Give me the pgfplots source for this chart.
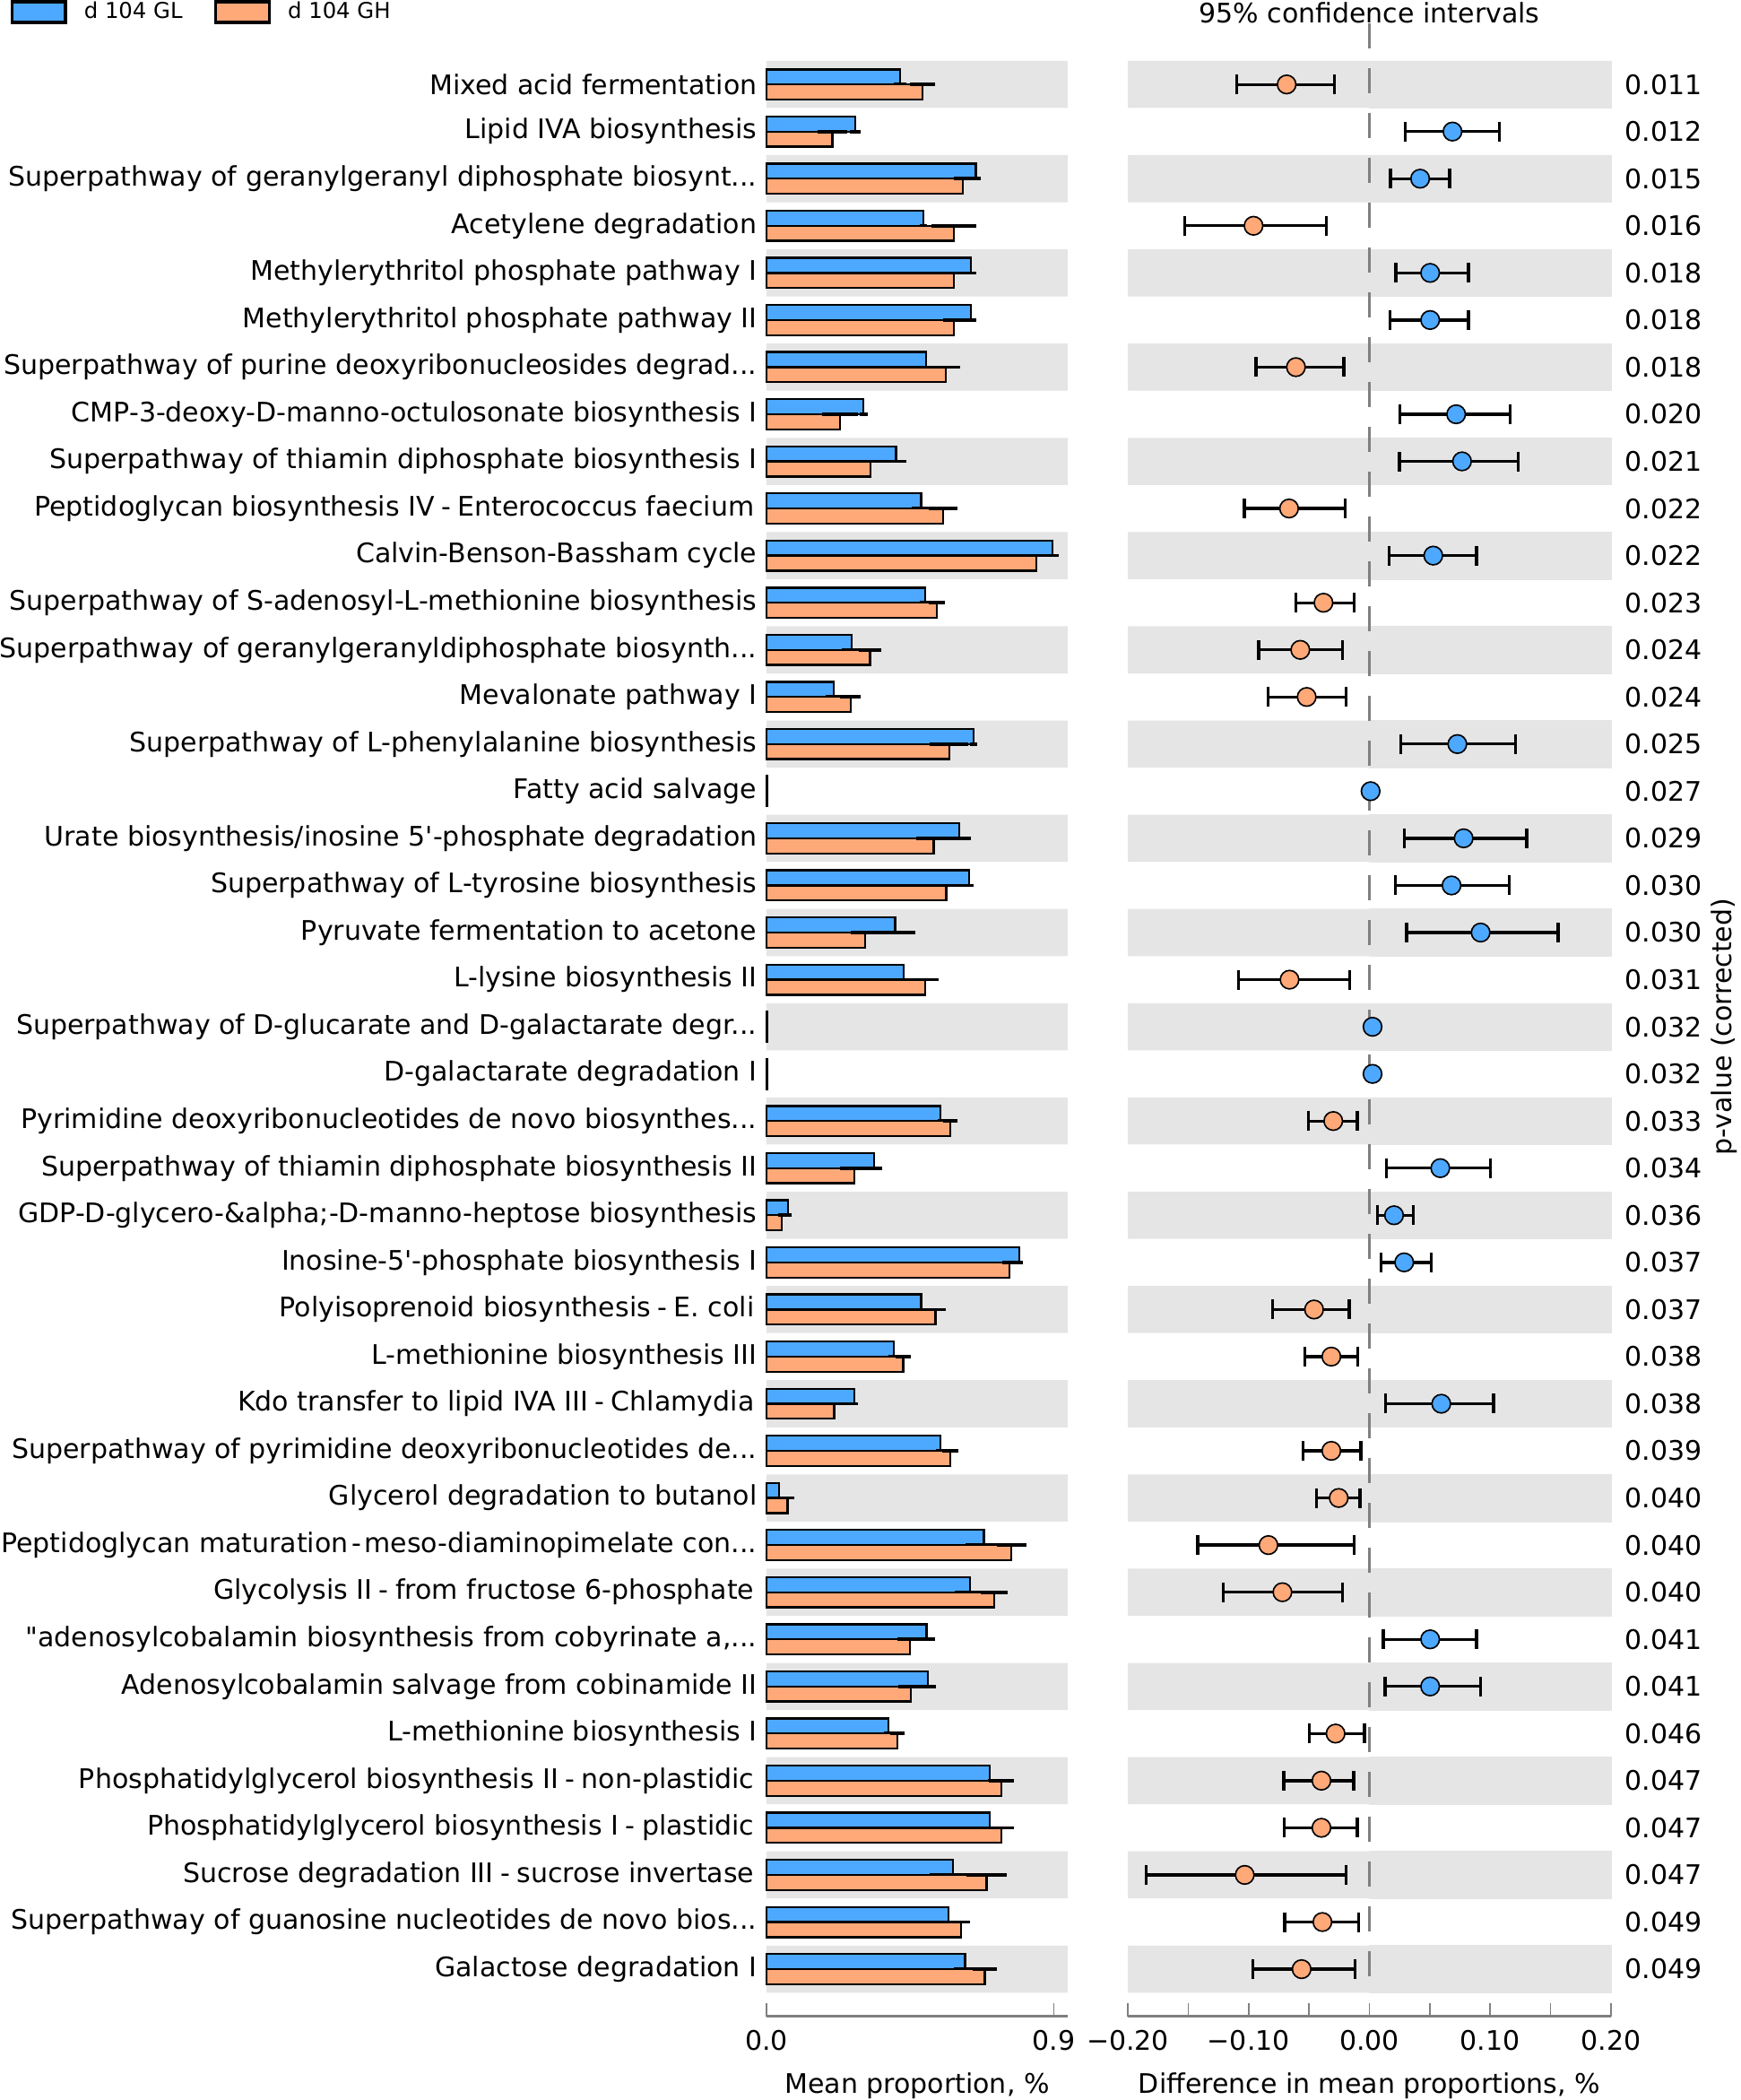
\documentclass[border=0pt]{standalone}
\usepackage{fontspec}
\setmainfont{DejaVu Sans}[Ligatures=TeXOff]
\usepackage{pgfplots}
\pgfplotsset{compat=1.18}
\usepackage{pgfplotstable}
\definecolor{gl}{RGB}{77,168,255}
\definecolor{gh}{RGB}{255,168,120}
\definecolor{band}{RGB}{229,229,229}
\definecolor{spine}{RGB}{128,128,128}
\newcommand{\lfont}{\fontsize{9.0pt}{11pt}\selectfont}
\newcommand{\gfont}{\fontsize{7.3pt}{9pt}\selectfont}
\protected\def\ddd{.\kern0pt.\kern0pt.}
\protected\def\sep{\kern0.25em-\kern0.25em}
\protected\def\nsep{\kern0.12em-\kern0.12em}
\protected\def\tsp{\kern0.1em}

\pgfplotstableread{
row gl gle gh ghe
-1 0.418 0.020 0.489 0.040
-2 0.278 0.017 0.206 0.046
-3 0.655 0.016 0.614 0.027
-4 0.491 0.012 0.587 0.070
-5 0.639 0.018 0.587 0.034
-6 0.639 0.018 0.587 0.034
-7 0.500 0.013 0.562 0.044
-8 0.304 0.012 0.230 0.057
-9 0.406 0.031 0.326 0.052
-10 0.484 0.029 0.552 0.045
-11 0.895 0.020 0.844 0.038
-12 0.496 0.016 0.534 0.025
-13 0.266 0.029 0.324 0.036
-14 0.210 0.026 0.263 0.033
-15 0.648 0.012 0.572 0.060
-16 0.003 0.000 0.002 0.000
-17 0.603 0.038 0.523 0.055
-18 0.634 0.015 0.563 0.058
-19 0.403 0.063 0.308 0.043
-20 0.429 0.037 0.496 0.043
-21 0.003 0.000 0.002 0.000
-22 0.003 0.000 0.002 0.000
-23 0.545 0.010 0.576 0.023
-24 0.337 0.025 0.275 0.045
-25 0.067 0.013 0.047 0.011
-26 0.791 0.012 0.761 0.023
-27 0.484 0.024 0.529 0.033
-28 0.398 0.015 0.428 0.024
-29 0.275 0.012 0.212 0.055
-30 0.544 0.013 0.576 0.026
-31 0.040 0.010 0.066 0.020
-32 0.681 0.058 0.767 0.047
-33 0.637 0.048 0.712 0.042
-34 0.501 0.026 0.449 0.039
-35 0.505 0.026 0.452 0.039
-36 0.382 0.015 0.409 0.022
-37 0.699 0.007 0.736 0.039
-38 0.699 0.007 0.736 0.039
-39 0.583 0.071 0.689 0.064
-40 0.570 0.023 0.609 0.029
-41 0.622 0.036 0.683 0.038
}\bars

\pgfplotstableread{
row bx cl cr
-1 0.943 -0.2 0.2
-3 0.943 -0.2 0.2
-5 0.943 -0.2 0.2
-7 0.943 -0.2 0.2
-9 0.943 -0.2 0.2
-11 0.943 -0.2 0.2
-13 0.943 -0.2 0.2
-15 0.943 -0.2 0.2
-17 0.943 -0.2 0.2
-19 0.943 -0.2 0.2
-21 0.943 -0.2 0.2
-23 0.943 -0.2 0.2
-25 0.943 -0.2 0.2
-27 0.943 -0.2 0.2
-29 0.943 -0.2 0.2
-31 0.943 -0.2 0.2
-33 0.943 -0.2 0.2
-35 0.943 -0.2 0.2
-37 0.943 -0.2 0.2
-39 0.943 -0.2 0.2
-41 0.943 -0.2 0.2
}\bands

% positive differences (higher in d 104 GL)
\pgfplotstableread{
row d em ep
-2 0.0688 0.0390 0.0387
-3 0.0420 0.0245 0.0245
-5 0.0503 0.0285 0.0317
-6 0.0503 0.0334 0.0317
-8 0.0718 0.0467 0.0446
-9 0.0767 0.0519 0.0466
-11 0.0529 0.0364 0.0357
-15 0.0728 0.0469 0.0484
-17 0.0780 0.0492 0.0522
-18 0.0680 0.0466 0.0476
-19 0.0921 0.0614 0.0640
-24 0.0587 0.0444 0.0413
-25 0.0204 0.0138 0.0161
-26 0.0288 0.0190 0.0225
-29 0.0595 0.0460 0.0434
-34 0.0503 0.0389 0.0383
-35 0.0503 0.0373 0.0415
}\cipos

% near-zero differences
\pgfplotstableread{
row d
-16 0.0010
-21 0.0026
-22 0.0026
}\cizero

% negative differences (higher in d 104 GH)
\pgfplotstableread{
row d em ep
-1 -0.0685 0.0415 0.0397
-4 -0.0959 0.0569 0.0605
-7 -0.0608 0.0331 0.0396
-10 -0.0665 0.0370 0.0463
-12 -0.0380 0.0228 0.0254
-13 -0.0572 0.0344 0.0350
-14 -0.0519 0.0320 0.0326
-20 -0.0661 0.0424 0.0500
-23 -0.0299 0.0204 0.0198
-27 -0.0458 0.0344 0.0291
-28 -0.0315 0.0217 0.0220
-30 -0.0315 0.0233 0.0244
-31 -0.0254 0.0183 0.0177
-32 -0.0836 0.0585 0.0709
-33 -0.0720 0.0489 0.0498
-36 -0.0280 0.0217 0.0240
-37 -0.0397 0.0312 0.0267
-38 -0.0397 0.0309 0.0297
-39 -0.1032 0.0815 0.0839
-40 -0.0389 0.0312 0.0302
-41 -0.0561 0.0402 0.0442
}\cineg

\begin{document}
\lfont
\begin{tikzpicture}
\useasboundingbox (0pt,0pt) rectangle (582.6pt,-702.6pt);
\pgfplotsset{
  common/.style={
    scale only axis,
    height=662.1pt,
    ymin=-42, ymax=0,
    ytick={-1,-2,...,-41},
    axis x line*=bottom,
    x axis line style={spine, line width=1pt},
    y axis line style={draw=none},
    ytick style={draw=none},
    xtick style={spine, line width=0.5pt},
    minor x tick style={spine, line width=0.5pt},
    major tick length=4.5pt,
    minor tick length=4.5pt,
    xtick align=inside,
    tick label style={font=\lfont},
    label style={font=\lfont},
    xticklabel style={anchor=base, yshift=-11.5pt},
    xlabel style={at={(axis description cs:0.5,-0.0387)}, anchor=base},
    every axis title shift=0pt,
    clip=false,
  }
}
% ---------- mean proportions ----------
\begin{axis}[common,
  at={(256.5pt,-12.48pt)}, anchor=north west,
  width=100.8pt,
  xmin=0, xmax=0.943,
  axis y line*=left,
  xtick={0,0.9}, xticklabels={0.0,0.9},
  xlabel={Mean proportion, \%},
  yticklabels={{Mixed acid fermentation},{Lipid IVA biosynthesis},{Superpathway of geranylgeranyl diphosphate biosynt\ddd},{Acetylene degradation},{Methylerythritol phosphate pathway I},{Methylerythritol phosphate pathway II},{Superpathway of purine deoxyribonucleosides degrad\ddd},{CMP-3-deoxy-D-manno-octulosonate biosynthesis I},{Superpathway of thiamin diphosphate biosynthesis I},{Peptidoglycan biosynthesis IV\sep Enterococcus faecium\tsp},{Calvin-Benson-Bassham cycle},{Superpathway of S-adenosyl-L-methionine biosynthesis},{Superpathway of geranylgeranyldiphosphate biosynth\ddd},{Mevalonate pathway I},{Superpathway of L-phenylalanine biosynthesis},{Fatty acid salvage},{Urate biosynthesis/inosine 5'-phosphate degradation},{Superpathway of L-tyrosine biosynthesis},{Pyruvate fermentation to acetone},{L-lysine biosynthesis II},{Superpathway of D-glucarate and D-galactarate degr\ddd},{D-galactarate degradation I},{Pyrimidine deoxyribonucleotides de novo biosynthes\ddd},{Superpathway of thiamin diphosphate biosynthesis II},{GDP-D-glycero-\&alpha;-D-manno-heptose biosynthesis},{Inosine-5'-phosphate biosynthesis I},{Polyisoprenoid biosynthesis\sep E. coli\tsp},{L-methionine biosynthesis III},{Kdo transfer to lipid IVA III\sep Chlamydia\tsp},{Superpathway of pyrimidine deoxyribonucleotides de\ddd},{Glycerol degradation to butanol},{Peptidoglycan maturation\nsep meso-diaminopimelate con\ddd},{Glycolysis II\sep from fructose 6-phosphate\tsp},{"adenosylcobalamin biosynthesis from cobyrinate a,\ddd},{Adenosylcobalamin salvage from cobinamide II},{L-methionine biosynthesis I},{Phosphatidylglycerol biosynthesis II\sep non-plastidic\tsp},{Phosphatidylglycerol biosynthesis I\sep plastidic\tsp},{Sucrose degradation III\sep sucrose invertase\tsp},{Superpathway of guanosine nucleotides de novo bios\ddd},{Galactose degradation I}},
  yticklabel style={anchor=east},
  legend style={draw=none, fill=none, inner sep=0pt, outer sep=0pt,
    at={(axis description cs:-2.51,1.0209)}, anchor=north west,
    legend columns=2,
    /tikz/every even column/.append style={column sep=8.6pt}},
  legend image code/.code={\draw[#1, line width=1pt] (0pt,-3.45pt) rectangle (17.9pt,3.45pt); \path (21.8pt,0pt);},
]
\addplot[xbar, bar width=1, bar shift=0, fill=band, draw=none, forget plot] table[x=bx, y=row] {\bands};
\addplot[xbar, bar width=0.32, bar shift=0.16, fill=gl, draw=black, line width=0.7pt,
  error bars/.cd, x dir=both, x explicit, error mark=none,
  error bar style={line width=1.1pt, black}]
  table[x=gl, y=row, x error=gle] {\bars};
\addlegendentry{\gfont d 104 GL}
\addplot[xbar, bar width=0.32, bar shift=-0.16, fill=gh, draw=black, line width=0.7pt,
  error bars/.cd, x dir=both, x explicit, error mark=none,
  error bar style={line width=1.1pt, black}]
  table[x=gh, y=row, x error=ghe] {\bars};
\addlegendentry{\gfont d 104 GH}
\end{axis}
% ---------- confidence intervals ----------
\begin{axis}[common,
  at={(377.4pt,-12.48pt)}, anchor=north west,
  width=161.7pt,
  xmin=-0.2, xmax=0.2,
  axis y line*=right,
  xtick={-0.2,-0.1,0,0.1,0.2},
  xticklabels={−0.20,−0.10,0.00,0.10,0.20},
  minor xtick={-0.15,-0.05,0.05,0.15},
  xlabel={Difference in mean proportions, \%},
  title={95\% confidence intervals},
  title style={at={(axis description cs:0.5,1.0075)}, anchor=base, font=\lfont},
  yticklabels={0.011,0.012,0.015,0.016,0.018,0.018,0.018,0.020,0.021,0.022,0.022,0.023,0.024,0.024,0.025,0.027,0.029,0.030,0.030,0.031,0.032,0.032,0.033,0.034,0.036,0.037,0.037,0.038,0.038,0.039,0.040,0.040,0.040,0.041,0.041,0.046,0.047,0.047,0.047,0.049,0.049},
  yticklabel style={anchor=west, xshift=1.5pt},
  ylabel={p-value (corrected)},
  every axis y label/.style={at={(axis description cs:1.2338,0.5)}, rotate=90, anchor=center, font=\lfont},
]
\addplot[xbar, bar width=1, bar shift=0, fill=band, draw=none, forget plot] table[x=cl, y=row] {\bands};
\addplot[xbar, bar width=1, bar shift=0, fill=band, draw=band, line width=0.2pt, forget plot] table[x=cr, y=row] {\bands};
\addplot[spine, line width=0.9pt, dash pattern=on 8.4pt off 6.6pt, forget plot] coordinates {(0,0.3) (0,-41.5)};
\addplot[only marks, mark=*, mark size=3.1pt, mark options={fill=gl, draw=black, line width=0.5pt},
  error bars/.cd, x dir=both, x explicit, error mark=|,
  error bar style={line width=1pt, black},
  error mark options={mark size=3.3pt, line width=1pt, black}]
  table[x=d, y=row, x error plus=ep, x error minus=em] {\cipos};
\addplot[only marks, mark=*, mark size=3.1pt, mark options={fill=gh, draw=black, line width=0.5pt},
  error bars/.cd, x dir=both, x explicit, error mark=|,
  error bar style={line width=1pt, black},
  error mark options={mark size=3.3pt, line width=1pt, black}]
  table[x=d, y=row, x error plus=ep, x error minus=em] {\cineg};
\addplot[only marks, mark=*, mark size=3.1pt, mark options={fill=gl, draw=black, line width=0.5pt}]
  table[x=d, y=row] {\cizero};
\end{axis}
\end{tikzpicture}
\end{document}
